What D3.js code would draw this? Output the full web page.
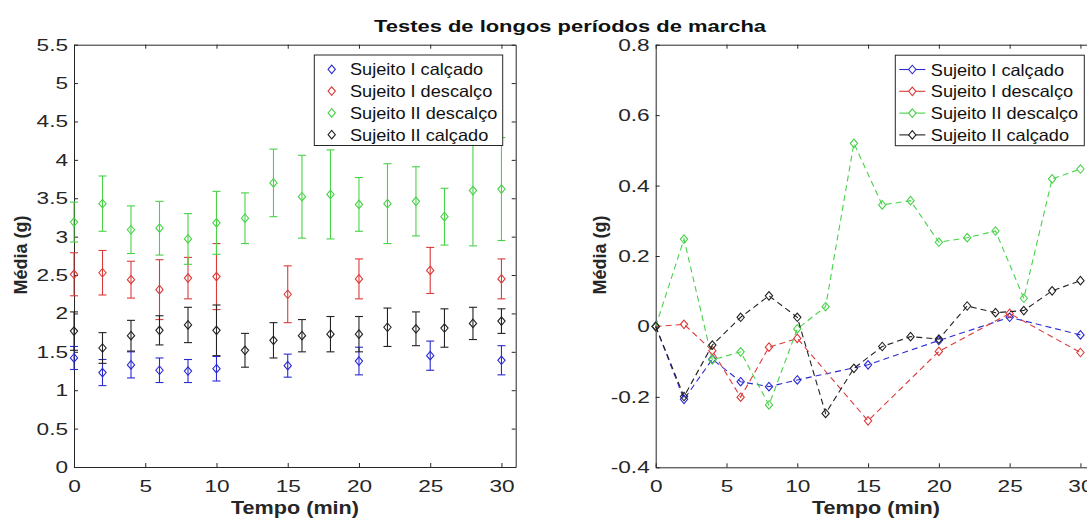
<!DOCTYPE html>
<html>
<head>
<meta charset="utf-8">
<script src="https://cdnjs.cloudflare.com/ajax/libs/d3/7.8.5/d3.min.js"></script>
<style>
  body { margin: 0; background: #fff; }
  svg { display: block; font-family: "Liberation Sans", Arial, sans-serif; }
  .tick text { fill: #262626; font-size: 17px; font-family: "Liberation Sans", Arial, sans-serif; }
  .tick line, .domain { stroke: #262626; }
</style>
</head>
<body>
<div id="canvas"></div>
<script>
// time points (min)
var tAll = [0, 2, 4, 6, 8, 10, 12, 14, 16, 18, 20, 22, 24, 26, 28, 30];
var tSub = [0, 2, 4, 6, 8, 10, 15, 20, 25, 30];

// left panel: mean +- error
var s1CalcMean = [1.42, 1.23, 1.33, 1.26, 1.25, 1.28, 1.32, 1.38, 1.45, 1.39];
var s1CalcErr = [0.15, 0.17, 0.17, 0.16, 0.15, 0.16, 0.15, 0.18, 0.19, 0.19];
var s1DescMean = [2.51, 2.53, 2.44, 2.31, 2.46, 2.48, 2.25, 2.45, 2.56, 2.45];
var s1DescErr = [0.28, 0.29, 0.24, 0.39, 0.27, 0.43, 0.37, 0.26, 0.3, 0.26];
var s2DescMean = [3.19, 3.43, 3.09, 3.11, 2.97, 3.18, 3.24, 3.7, 3.52, 3.55, 3.42, 3.43, 3.46, 3.26, 3.6, 3.62];
var s2DescErr = [0.26, 0.36, 0.31, 0.35, 0.33, 0.41, 0.33, 0.44, 0.54, 0.58, 0.35, 0.52, 0.45, 0.37, 0.72, 0.67];
var s2CalcMean = [1.77, 1.55, 1.71, 1.78, 1.85, 1.78, 1.52, 1.65, 1.71, 1.73, 1.73, 1.82, 1.8, 1.81, 1.87, 1.9];
var s2CalcErr = [0.25, 0.2, 0.2, 0.19, 0.23, 0.33, 0.22, 0.23, 0.21, 0.23, 0.23, 0.25, 0.22, 0.25, 0.21, 0.16];

// right panel: values relative to t=0
var s1CalcRel = [0, -0.207, -0.093, -0.157, -0.171, -0.152, -0.109, -0.04, 0.026, -0.024];
var s1DescRel = [0, 0.006, -0.069, -0.201, -0.059, -0.034, -0.268, -0.071, 0.037, -0.074];
var s2DescRel = [0, 0.248, -0.095, -0.072, -0.223, -0.007, 0.056, 0.52, 0.345, 0.357, 0.239, 0.252, 0.271, 0.08, 0.419, 0.447];
var s2CalcRel = [0, -0.199, -0.053, 0.026, 0.087, 0.026, -0.247, -0.119, -0.057, -0.029, -0.036, 0.058, 0.039, 0.045, 0.101, 0.13];

var names = ["Sujeito I calçado", "Sujeito I descalço", "Sujeito II descalço", "Sujeito II calçado"];
var colors = ["#2a2ad2", "#dc3a3a", "#48d248", "#222222"];

var xTicks = [0, 5, 10, 15, 20, 25, 30];
var yTicksL = [0, 0.5, 1, 1.5, 2, 2.5, 3, 3.5, 4, 4.5, 5, 5.5];
var yTicksR = [-0.4, -0.2, 0, 0.2, 0.4, 0.6, 0.8];

var width = 1087, height = 520;

var svg = d3.select("#canvas")
  .append("svg")
  .attr("width", width)
  .attr("height", height);

// scales
var xL = d3.scaleLinear().domain([0, 31]).range([74, 515.7]);
var yL = d3.scaleLinear().domain([0, 5.5]).range([467, 44.7]);
var xR = d3.scaleLinear().domain([0, 31]).range([655.7, 1094.6]);
var yR = d3.scaleLinear().domain([-0.4, 0.8]).range([467.3, 44.7]);

// stretch text horizontally (the source image is wider than plain Arial)
function stretch(sel, k) {
  sel.each(function () {
    var w = this.getComputedTextLength();
    d3.select(this).attr("textLength", w * k).attr("lengthAdjust", "spacingAndGlyphs");
  });
}

var diamond = {
  draw: function (ctx, size) {
    var h = Math.sqrt(size) * 0.6, w = h * 0.86;
    ctx.moveTo(0, -h);
    ctx.lineTo(w, 0);
    ctx.lineTo(0, h);
    ctx.lineTo(-w, 0);
    ctx.closePath();
  }
};
var marker = d3.symbol().type(diamond).size(50);

var fmt = (d) => String(+d.toFixed(1));

function frame(x, y, yTicks) {
  var g = svg.append("g");
  var bx = g.append("g")
    .attr("transform", "translate(0," + y.range()[0] + ")")
    .call(d3.axisBottom(x).tickValues(xTicks).tickSizeInner(-4).tickSizeOuter(0).tickPadding(13));
  g.append("g")
    .attr("transform", "translate(0," + y.range()[1] + ")")
    .call(d3.axisTop(x).tickValues(xTicks).tickSizeInner(-4).tickSizeOuter(0).tickFormat(""));
  var ly = g.append("g")
    .attr("transform", "translate(" + x.range()[0] + ",0)")
    .call(d3.axisLeft(y).tickValues(yTicks).tickSizeInner(-4).tickSizeOuter(0).tickPadding(6).tickFormat(fmt));
  g.append("g")
    .attr("transform", "translate(" + x.range()[1] + ",0)")
    .call(d3.axisRight(y).tickValues(yTicks).tickSizeInner(-4).tickSizeOuter(0).tickFormat(""));
  stretch(bx.selectAll("text"), 1.33);
  stretch(ly.selectAll("text"), 1.33);
}

frame(xL, yL, yTicksL);
frame(xR, yR, yTicksR);

// ---- left panel: error bars ----
var leftSeries = [
  { t: tSub, m: s1CalcMean, e: s1CalcErr },
  { t: tSub, m: s1DescMean, e: s1DescErr },
  { t: tAll, m: s2DescMean, e: s2DescErr },
  { t: tAll, m: s2CalcMean, e: s2CalcErr },
];

leftSeries.forEach(function (s, k) {
  var pts = s.t.map((t, i) => ({ t: t, m: s.m[i], e: s.e[i] }));
  var g = svg.append("g").attr("stroke", colors[k]).attr("fill", "none").attr("stroke-width", 1.1);
  var eb = g.selectAll(".eb").data(pts).enter().append("g");
  eb.append("line")
    .attr("x1", (d) => xL(d.t)).attr("x2", (d) => xL(d.t))
    .attr("y1", (d) => yL(d.m - d.e)).attr("y2", (d) => yL(d.m + d.e));
  eb.append("line")
    .attr("x1", (d) => xL(d.t) - 4).attr("x2", (d) => xL(d.t) + 4)
    .attr("y1", (d) => yL(d.m + d.e)).attr("y2", (d) => yL(d.m + d.e));
  eb.append("line")
    .attr("x1", (d) => xL(d.t) - 4).attr("x2", (d) => xL(d.t) + 4)
    .attr("y1", (d) => yL(d.m - d.e)).attr("y2", (d) => yL(d.m - d.e));
  eb.append("path")
    .attr("d", marker)
    .attr("transform", (d) => "translate(" + xL(d.t) + "," + yL(d.m) + ")");
});

// ---- right panel: dashed lines ----
var rightSeries = [
  { t: tSub, v: s1CalcRel },
  { t: tSub, v: s1DescRel },
  { t: tAll, v: s2DescRel },
  { t: tAll, v: s2CalcRel },
];

var line = d3.line().x((d) => xR(d.t)).y((d) => yR(d.v));

rightSeries.forEach(function (s, k) {
  var pts = s.t.map((t, i) => ({ t: t, v: s.v[i] }));
  var g = svg.append("g").attr("stroke", colors[k]).attr("fill", "none").attr("stroke-width", 1.1);
  g.append("path").datum(pts).attr("d", line).attr("stroke-dasharray", "6,4");
  g.selectAll(".mk").data(pts).enter().append("path")
    .attr("d", marker)
    .attr("transform", (d) => "translate(" + xR(d.t) + "," + yR(d.v) + ")");
});

// ---- legends ----
function legend(x0, y0, w, withLine) {
  var g = svg.append("g");
  g.append("rect")
    .attr("x", x0).attr("y", y0).attr("width", w).attr("height", 90.5)
    .attr("fill", "#fff").attr("stroke", "#262626").attr("stroke-width", 1);
  names.forEach(function (n, i) {
    var cy = y0 + 14.3 + i * 21.8;
    var item = g.append("g").attr("stroke", colors[i]).attr("fill", "none").attr("stroke-width", 1.1);
    var mx = withLine ? x0 + 17 : x0 + 17.4;
    if (withLine) {
      item.append("line").attr("x1", x0 + 4).attr("x2", x0 + 30).attr("y1", cy).attr("y2", cy);
    }
    item.append("path").attr("d", marker).attr("fill", withLine ? "#fff" : "none")
      .attr("transform", "translate(" + mx + "," + cy + ")");
    var t = g.append("text")
      .attr("x", withLine ? x0 + 35.5 : x0 + 35.7)
      .attr("y", cy + 6)
      .attr("font-size", "16.5px")
      .attr("fill", "#111")
      .text(n);
    stretch(t, 1.1);
  });
}
legend(314.3, 55, 188.4, false);
legend(895.3, 55.2, 189, true);

// ---- titles ----
var title = svg.append("text")
  .attr("x", 570).attr("y", 32)
  .attr("text-anchor", "middle")
  .attr("font-weight", "bold").attr("font-size", "17px").attr("fill", "#111")
  .text("Testes de longos períodos de marcha");
stretch(title, 1.29);

[295, 876].forEach(function (cx) {
  var t = svg.append("text")
    .attr("x", cx).attr("y", 514)
    .attr("text-anchor", "middle")
    .attr("font-weight", "bold").attr("font-size", "18px").attr("fill", "#262626")
    .text("Tempo (min)");
  stretch(t, 1.2);
});

[27, 606].forEach(function (bx) {
  svg.append("text")
    .attr("transform", "translate(" + bx + ",255) rotate(-90)")
    .attr("text-anchor", "middle")
    .attr("font-weight", "bold").attr("font-size", "18px").attr("fill", "#262626")
    .text("Média (g)");
});
</script>
</body>
</html>
